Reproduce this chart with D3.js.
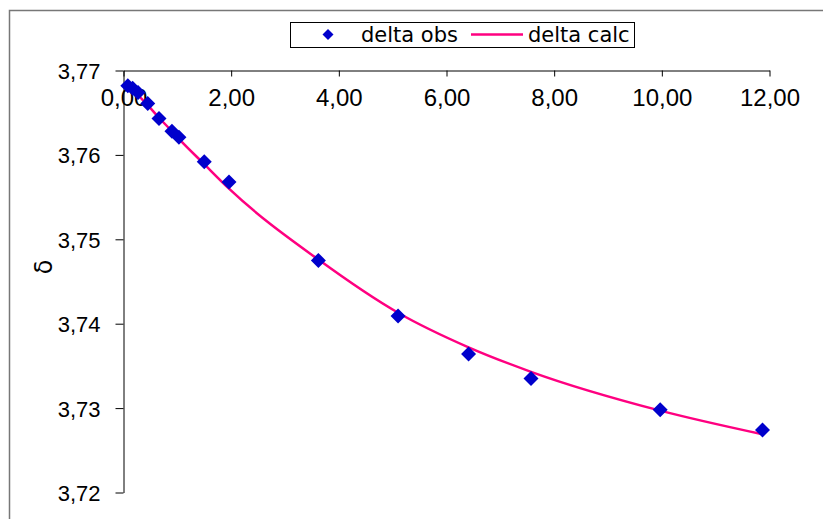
<!DOCTYPE html>
<html>
<head>
<meta charset="utf-8">
<script src="https://cdn.jsdelivr.net/npm/d3@7/dist/d3.min.js"></script>
<style>
  html, body { margin: 0; padding: 0; background: #fff; }
  svg { display: block; font-family: "DejaVu Sans", Verdana, sans-serif; }
</style>
</head>
<body>
<svg id="chart" width="823" height="519"></svg>
<script>
// Concentration values (x) and chemical shift readings
const xValues    = [0.08, 0.17, 0.27, 0.45, 0.66, 0.90, 1.03, 1.50, 1.96, 3.62, 5.10, 6.41, 7.57, 9.97, 11.87];
const deltaObs   = [3.7682, 3.7679, 3.7674, 3.7661, 3.7643, 3.7628, 3.7621, 3.7592, 3.7568, 3.7475, 3.7409, 3.7364, 3.7335, 3.7298, 3.7274];
const deltaCalc  = [3.7684, 3.7678, 3.7671, 3.7659, 3.7644, 3.7628, 3.7619, 3.7589, 3.7560, 3.7476, 3.7413, 3.7372, 3.7343, 3.7297, 3.7269];
const xTicks     = [0, 2, 4, 6, 8, 10, 12];
const yTicks     = [3.72, 3.73, 3.74, 3.75, 3.76, 3.77];
const seriesNames = ["delta obs", "delta calc"];
const axisTitle  = "δ";

const fmt = v => d3.format(".2f")(v).replace(".", ",");

const svg = d3.select("#chart");

// outer chart frame
svg.append("rect")
  .attr("x", 9.5).attr("y", 10.5)
  .attr("width", 900).attr("height", 600)
  .attr("fill", "#fff").attr("stroke", "#777").attr("stroke-width", 1.5);

const x = d3.scaleLinear().domain([0, 12]).range([123.5, 769.5]);
const y = d3.scaleLinear().domain([3.72, 3.77]).range([492.5, 70.5]);

// x axis sits on the top edge (y = 3,77), ticks pointing down
const xAxis = svg.append("g")
  .attr("transform", `translate(0,${y(3.77)})`)
  .call(d3.axisBottom(x).tickValues(xTicks).tickFormat(fmt).tickSize(6).tickSizeOuter(0));
xAxis.select(".domain").attr("stroke", "#000");
xAxis.selectAll("line").attr("stroke", "#000");
xAxis.selectAll("text")
  .attr("y", 35).attr("dy", 0)
  .attr("font-size", 24).attr("fill", "#000");

// y axis on the left
const yAxis = svg.append("g")
  .attr("transform", `translate(${x(0)},0)`)
  .call(d3.axisLeft(y).tickValues(yTicks).tickFormat(fmt).tickSize(8).tickSizeOuter(0));
yAxis.select(".domain").attr("stroke", "#000");
yAxis.selectAll("line").attr("stroke", "#000");
yAxis.selectAll("text")
  .attr("x", -23).attr("dy", "0.36em")
  .attr("font-size", 22).attr("fill", "#000");

// y axis title
svg.append("text")
  .attr("transform", "translate(52,267) rotate(-90)")
  .attr("text-anchor", "middle")
  .attr("font-size", 24)
  .text(axisTitle);

const pts = xValues.map((v, i) => ({ x: v, obs: deltaObs[i], calc: deltaCalc[i] }));

// fitted curve
const line = d3.line()
  .x(d => x(d.x)).y(d => y(d.calc))
  .curve(d3.curveMonotoneX);
svg.append("path")
  .datum(pts)
  .attr("d", line)
  .attr("fill", "none")
  .attr("stroke", "#FF0080")
  .attr("stroke-width", 2.5);

// observed points as diamonds
const diamond = r => `M0,${-r}L${r},0L0,${r}L${-r},0Z`;
svg.append("g").selectAll("path")
  .data(pts)
  .join("path")
  .attr("transform", d => `translate(${x(d.x)},${y(d.obs)})`)
  .attr("d", diamond(7.5))
  .attr("fill", "#0000CC");

// legend
const lg = svg.append("g");
lg.append("rect")
  .attr("x", 290.5).attr("y", 22.5).attr("width", 344).attr("height", 25)
  .attr("fill", "#fff").attr("stroke", "#000").attr("stroke-width", 1);
lg.append("path")
  .attr("transform", "translate(328,34.5)")
  .attr("d", diamond(5.5))
  .attr("fill", "#0000CC");
lg.append("text")
  .attr("x", 361).attr("y", 42)
  .attr("font-size", 21)
  .text(seriesNames[0]);
lg.append("line")
  .attr("x1", 471).attr("x2", 523).attr("y1", 34.5).attr("y2", 34.5)
  .attr("stroke", "#FF0080").attr("stroke-width", 2.5);
lg.append("text")
  .attr("x", 528).attr("y", 42)
  .attr("font-size", 21)
  .text(seriesNames[1]);
</script>
</body>
</html>
